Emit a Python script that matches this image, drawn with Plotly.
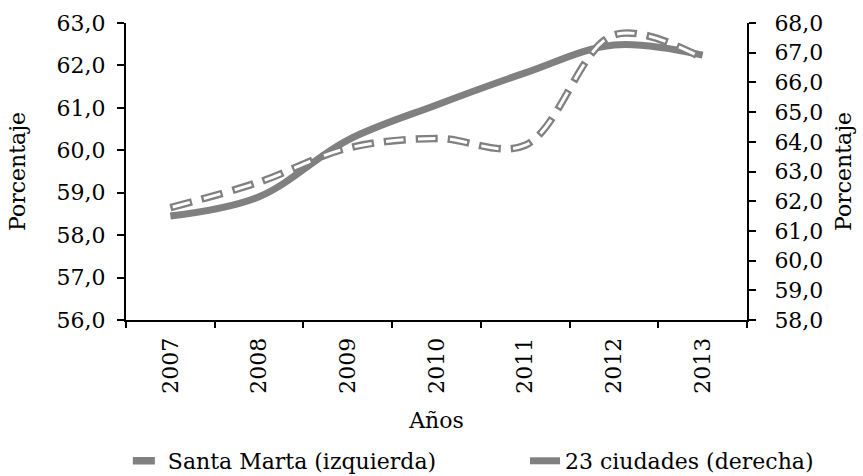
import numpy as np
import plotly.graph_objects as go

years = ["2007", "2008", "2009", "2010", "2011", "2012", "2013"]
santa_marta = [58.65, 59.25, 60.05, 60.28, 60.12, 62.72, 62.17]
ciudades = [61.5, 62.15, 64.06, 65.24, 66.32, 67.26, 66.92]

FONT = "DejaVu Serif"
GRAY = "#808080"
fs = 22
NB = "\u00a0"

fig = go.Figure()

# 23 ciudades on base axis (right side)
fig.add_trace(go.Scatter(
    x=years, y=ciudades, name="23 ciudades (derecha)", mode="lines",
    line=dict(color=GRAY, width=7, shape="spline", smoothing=1.0),
    xaxis="x", yaxis="y", legend="legend2",
))
# Santa Marta on overlay axis (left side): hollow dashes
fig.add_trace(go.Scatter(
    x=years, y=santa_marta, name="Santa Marta (izquierda)", mode="lines",
    line=dict(color=GRAY, width=7.5, shape="spline", smoothing=1.0, dash="22px,10px"),
    xaxis="x", yaxis="y2", legend="legend",
))
fig.add_trace(go.Scatter(
    x=years, y=santa_marta, showlegend=False, mode="lines", hoverinfo="skip",
    line=dict(color="white", width=3, shape="spline", smoothing=1.0,
              dash="0px,2.3px,17.4px,12.3px"),
    xaxis="x", yaxis="y2",
))

n = len(years)
bounds = list(np.arange(n + 1) - 0.5)

tickfont = dict(family=FONT, size=fs, color="black")
legfont = dict(family=FONT, size=fs, color="black")
fig.update_layout(
    width=863, height=476,
    margin=dict(l=126, r=116, t=23, b=156, autoexpand=False),
    paper_bgcolor="white", plot_bgcolor="white",
    separators=",.",
    font=dict(family=FONT, size=fs, color="black"),
    showlegend=True,
    legend=dict(orientation="h", x=0.003, xanchor="left", y=-0.404, yanchor="top",
                font=legfont, bgcolor="rgba(0,0,0,0)"),
    legend2=dict(orientation="h", x=0.6425, xanchor="left", y=-0.404, yanchor="top",
                 font=legfont, bgcolor="rgba(0,0,0,0)"),
    xaxis=dict(type="category", categoryarray=years, range=[-0.5, n - 0.5],
               tickson="boundaries", ticks="outside", ticklen=6, tickwidth=1.5,
               tickcolor="black", showline=True, linecolor="black", linewidth=2,
               showgrid=False, zeroline=False, tickangle=-90, tickfont=tickfont,
               ticksuffix=NB, automargin=False,
               title=dict(text="Años", font=dict(family=FONT, size=fs), standoff=20)),
    xaxis2=dict(overlaying="x", range=[-0.5, n - 0.5], tickvals=bounds, ticks="inside",
                ticklen=8, tickwidth=1.5, tickcolor="black", showticklabels=False,
                showgrid=False, zeroline=False, showline=False, side="bottom", anchor="y"),
    yaxis=dict(side="right", range=[58, 68], dtick=1, tickformat=".1f",
               ticks="outside", ticklen=7, tickwidth=1.5, tickcolor="black",
               showline=True, linecolor="black", linewidth=2, showgrid=False,
               zeroline=False, tickfont=tickfont, automargin=False,
               tickprefix=NB + NB,
               title=dict(text="Porcentaje", font=dict(family=FONT, size=fs), standoff=13)),
    yaxis2=dict(side="left", overlaying="y", range=[56, 63], dtick=1, tickformat=".1f",
                ticks="outside", ticklen=7, tickwidth=1.5, tickcolor="black",
                showline=True, linecolor="black", linewidth=2, showgrid=False,
                zeroline=False, tickfont=tickfont, automargin=False,
                ticksuffix=NB,
                title=dict(text="Porcentaje", font=dict(family=FONT, size=fs), standoff=25)),
    yaxis3=dict(side="left", overlaying="y", range=[56, 63], dtick=1, ticks="inside",
                ticklen=7, tickwidth=1.5, tickcolor="black", showticklabels=False,
                showgrid=False, zeroline=False, showline=False),
    yaxis4=dict(side="right", overlaying="y", range=[58, 68], dtick=1, ticks="inside",
                ticklen=7, tickwidth=1.5, tickcolor="black", showticklabels=False,
                showgrid=False, zeroline=False, showline=False),
)

fig.write_html("out.html", config={"displayModeBar": False},
               post_script="document.body.style.margin='0';")
